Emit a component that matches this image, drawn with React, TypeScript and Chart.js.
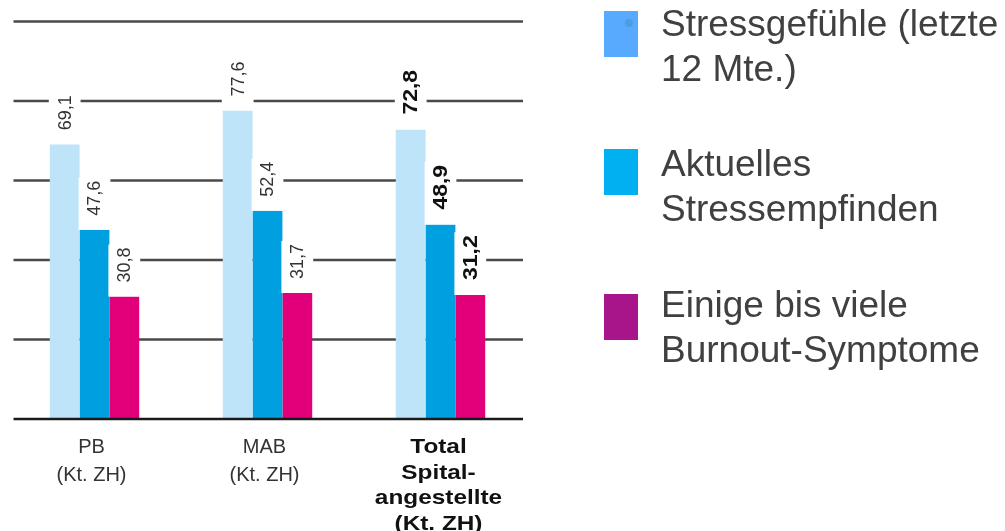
import React, { useEffect, useRef } from "react";
import { Chart, registerables } from "chart.js";

Chart.register(...registerables);

// ---- data ----
const categories: string[][] = [
  ["PB", "(Kt. ZH)"],
  ["MAB", "(Kt. ZH)"],
  ["Total", "Spital-", "angestellte", "(Kt. ZH)"],
];
const boldCategory = [false, false, true];
const seriesNames = [
  "Stressgefühle (letzte 12 Mte.)",
  "Aktuelles Stressempfinden",
  "Einige bis viele Burnout-Symptome",
];
const legendLines: string[][] = [
  ["Stressgefühle (letzte", "12 Mte.)"],
  ["Aktuelles", "Stressempfinden"],
  ["Einige bis viele", "Burnout-Symptome"],
];
const stressLast12 = [69.1, 77.6, 72.8];
const stressCurrent = [47.6, 52.4, 48.9];
const burnoutSymptoms = [30.8, 31.7, 31.2];
const gridValues = [20, 40, 60, 80, 100];

// ---- styles ----
const FONT = "'Liberation Sans', Arial, Helvetica, sans-serif";
const barColors = ["#BEE4F9", "#009FE0", "#E2007A"];
const legendColors = ["#58AAFF", "#00B0F0", "#A8158A"];

const fmt = (v: number) => v.toFixed(1).replace(".", ",");

const customPlugin = {
  id: "customDraw",
  beforeDatasetsDraw(chart: any) {
    const { ctx, chartArea, scales } = chart;
    const y = scales.y;
    ctx.save();
    ctx.strokeStyle = "#4a4a4a";
    ctx.lineWidth = 2.5;
    for (const v of gridValues) {
      const py = y.getPixelForValue(v);
      ctx.beginPath();
      ctx.moveTo(chartArea.left + 5.5, py);
      ctx.lineTo(chartArea.right - 4, py);
      ctx.stroke();
    }
    ctx.restore();
  },
  afterDatasetsDraw(chart: any) {
    const { ctx, chartArea, scales } = chart;
    const y = scales.y;
    const x = scales.x;

    // value labels with white background boxes
    chart.data.datasets.forEach((ds: any, di: number) => {
      const meta = chart.getDatasetMeta(di);
      meta.data.forEach((bar: any, i: number) => {
        const bold = boldCategory[i];
        const text = fmt(ds.data[i]);
        const stretch = bold ? 1.15 : 1;
        const gap = bold ? 15 : 14;
        ctx.save();
        ctx.font = `${bold ? "bold " : ""}${bold ? 20 : 18}px ${FONT}`;
        const len = ctx.measureText(text).width * stretch;
        ctx.fillStyle = "#ffffff";
        ctx.fillRect(bar.x - bar.width / 2 - 1, bar.y - gap - len - 3, bar.width + 2, gap + len + 3);
        ctx.translate(bar.x + 1, bar.y - gap);
        ctx.rotate(-Math.PI / 2);
        ctx.scale(stretch, 1);
        ctx.textAlign = "left";
        ctx.textBaseline = "middle";
        ctx.fillStyle = bold ? "#111111" : "#333333";
        ctx.fillText(text, 0, 0);
        ctx.restore();
      });
    });

    // base line
    const by = y.getPixelForValue(0);
    ctx.save();
    ctx.strokeStyle = "#1a1a1a";
    ctx.lineWidth = 2.5;
    ctx.beginPath();
    ctx.moveTo(chartArea.left + 5.5, by);
    ctx.lineTo(chartArea.right - 4, by);
    ctx.stroke();
    ctx.restore();

    // category labels
    categories.forEach((lines, i) => {
      const cx = x.getPixelForValue(i);
      const bold = boldCategory[i];
      ctx.save();
      ctx.font = `${bold ? "bold " : ""}${bold ? 21 : 20}px ${FONT}`;
      ctx.fillStyle = bold ? "#111111" : "#333333";
      ctx.textAlign = "center";
      ctx.textBaseline = "alphabetic";
      const lh = bold ? 25.7 : 28;
      lines.forEach((ln, k) => {
        const ly = by + 34 + k * lh;
        ctx.save();
        ctx.translate(cx + (bold ? -2 : -3), ly);
        ctx.scale(bold ? 1.16 : 1, 1);
        ctx.fillText(ln, 0, 0);
        ctx.restore();
      });
      ctx.restore();
    });

    // legend
    const sqTops = [11, 149, 294];
    const baseOffsets = [25, 27, 23];
    ctx.save();
    legendLines.forEach((lines, i) => {
      ctx.fillStyle = legendColors[i];
      ctx.fillRect(604, sqTops[i], 34, 46);
      if (i === 0) {
        ctx.fillStyle = "rgba(70,150,200,0.6)";
        ctx.beginPath();
        ctx.arc(629, 23, 4, 0, Math.PI * 2);
        ctx.fill();
      }
      ctx.font = `37px ${FONT}`;
      ctx.fillStyle = "#404040";
      ctx.textAlign = "left";
      ctx.textBaseline = "alphabetic";
      lines.forEach((ln, k) => {
        ctx.fillText(ln, 661, sqTops[i] + baseOffsets[i] + k * 45);
      });
    });
    ctx.restore();
  },
};

export default function App() {
  const canvasRef = useRef<HTMLCanvasElement | null>(null);

  useEffect(() => {
    if (!canvasRef.current) return;
    const chart = new Chart(canvasRef.current, {
      type: "bar",
      data: {
        labels: categories.map((c) => c.join(" ")),
        datasets: [
          { label: seriesNames[0], data: stressLast12, backgroundColor: barColors[0] },
          { label: seriesNames[1], data: stressCurrent, backgroundColor: barColors[1] },
          { label: seriesNames[2], data: burnoutSymptoms, backgroundColor: barColors[2] },
        ],
      },
      options: {
        animation: false,
        responsive: true,
        maintainAspectRatio: false,
        devicePixelRatio: 1,
        layout: { padding: { left: 8, right: 478, top: 21.5, bottom: 112 } },
        datasets: {
          bar: { barPercentage: 1, categoryPercentage: 0.517, borderWidth: 0 },
        },
        scales: {
          x: { display: false },
          y: { display: false, min: 0, max: 100 },
        },
        plugins: {
          legend: { display: false },
          tooltip: { enabled: false },
          title: { display: false },
        },
      },
      plugins: [customPlugin],
    });
    return () => chart.destroy();
  }, []);

  return (
    <div
      style={{
        position: "absolute",
        left: 0,
        top: 0,
        width: 1005,
        height: 531,
        background: "#ffffff",
      }}
    >
      <canvas ref={canvasRef} />
    </div>
  );
}
